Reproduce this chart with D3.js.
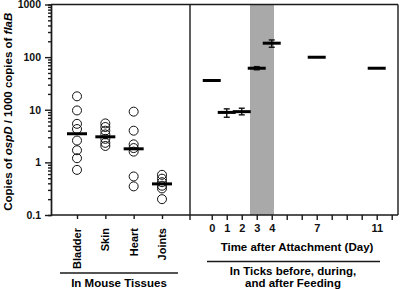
<!DOCTYPE html>
<html>
<head>
<meta charset="utf-8">
<script src="https://cdn.jsdelivr.net/npm/d3@7"></script>
<style>
  body { margin: 0; background: #fff; }
  svg { display: block; font-family: "Liberation Sans", Arial, sans-serif; font-weight: bold; }
  .axis path, .axis line { stroke: #1a1a1a; stroke-width: 1.4; }
  .axis text { font-family: "Liberation Sans", Arial, sans-serif; font-weight: bold; font-size: 10.5px; fill: #111; }
</style>
</head>
<body>
<div id="chart"></div>
<script>
// left panel: copies per tissue (one circle per mouse)
var tissues = ["Bladder", "Skin", "Heart", "Joints"];
var bladder = [18, 9.7, 5.4, 4.3, 2.6, 1.7, 1.2, 0.72];
var skin = [5.5, 4.7, 4.0, 3.4, 2.8, 2.35, 2.05];
var heart = [9.2, 4.0, 2.2, 1.87, 1.6, 0.54, 0.35];
var joints = [0.58, 0.49, 0.42, 0.36, 0.32, 0.2];
var tissueMedians = [3.5, 3.06, 1.81, 0.39];

// right panel: ticks, mean with error
var days = [0, 1, 2, 3, 4, 7, 11];
var dayMeans = [36, 8.9, 9.2, 61.5, 184, 99.5, 61.5];
var dayLow = [36, 7.2, 8.0, 57.5, 154, 99.5, 61.5];
var dayHigh = [36, 10.4, 10.7, 66, 212, 99.5, 61.5];
var dayLabels = [0, 1, 2, 3, 4, 7, 11];
var feedingBand = [2.55, 4.15];

var yTicks = [0.1, 1, 10, 100, 1000];

var W = 400, H = 289;
var mLeft = 51, mTop = 4.5, mBottom = 215, divider = 190, mRight = 398;

var svg = d3.select("#chart").append("svg")
    .attr("width", W)
    .attr("height", H);

var y = d3.scaleLog().domain([0.1, 1000]).range([mBottom, mTop]);
var xT = d3.scalePoint().domain(tissues).range([77, 162]);
var xD = d3.scaleLinear().domain([-1.45, 12.42]).range([divider, mRight]);

// gray feeding band
svg.append("rect")
    .attr("x", xD(feedingBand[0]))
    .attr("y", mTop)
    .attr("width", xD(feedingBand[1]) - xD(feedingBand[0]))
    .attr("height", mBottom - mTop)
    .attr("fill", "#a9a9a9");

// y axis, major and minor ticks
var minor = [];
yTicks.slice(0, 4).forEach(function(t) {
  for (var k = 2; k < 10; k++) minor.push(t * k);
});

svg.append("g")
    .attr("class", "axis")
    .attr("transform", "translate(" + mLeft + ",0)")
    .call(d3.axisLeft(y).tickValues(minor).tickSize(3).tickFormat(""));

svg.append("g")
    .attr("class", "axis")
    .attr("transform", "translate(" + mLeft + ",0)")
    .call(d3.axisLeft(y).tickValues(yTicks).tickSize(6).tickSizeOuter(0)
      .tickFormat(function(d) { return d < 1 ? "0.1" : d3.format("d")(d); }))
    .selectAll("text").attr("dx", "-1px");

// frame
svg.append("line").attr("x1", mLeft).attr("x2", mRight).attr("y1", mTop).attr("y2", mTop)
    .attr("stroke", "#1a1a1a").attr("stroke-width", 1.4);
svg.append("line").attr("x1", mRight).attr("x2", mRight).attr("y1", mTop).attr("y2", mBottom)
    .attr("stroke", "#1a1a1a").attr("stroke-width", 1.4);
svg.append("line").attr("x1", divider).attr("x2", divider).attr("y1", mTop).attr("y2", mBottom + 5)
    .attr("stroke", "#1a1a1a").attr("stroke-width", 1.4);

// bottom axes
var gl = svg.append("g")
    .attr("class", "axis")
    .attr("transform", "translate(0," + mBottom + ")")
    .call(d3.axisBottom(xT).tickSize(4).tickSizeOuter(0).tickFormat(""));
gl.select(".domain").attr("d", "M" + mLeft + ",0H" + divider);

var gr = svg.append("g")
    .attr("class", "axis")
    .attr("transform", "translate(0," + mBottom + ")")
    .call(d3.axisBottom(xD).tickValues(d3.range(0, 13)).tickSize(5).tickSizeOuter(0)
      .tickFormat(function(d) { return dayLabels.indexOf(d) >= 0 ? d : ""; }));
gr.select(".domain").attr("d", "M" + divider + ",0H" + mRight);
gr.selectAll("text").attr("y", 9).style("font-size", "11px");

// tissue labels, rotated
svg.append("g").selectAll("text")
    .data(tissues)
    .enter().append("text")
      .attr("transform", function(d) { return "translate(" + (xT(d) + 4) + ",228) rotate(-90)"; })
      .attr("text-anchor", "end")
      .style("font-size", "11px")
      .text(function(d) { return d; });

// circles
var groups = [bladder, skin, heart, joints];
groups.forEach(function(vals, i) {
  svg.append("g").selectAll("circle")
      .data(vals)
      .enter().append("circle")
        .attr("cx", xT(tissues[i]))
        .attr("cy", function(d) { return y(d); })
        .attr("r", 4.5)
        .attr("fill", "none")
        .attr("stroke", "#111")
        .attr("stroke-width", 1);
});

svg.append("g").selectAll("line")
    .data(tissueMedians)
    .enter().append("line")
      .attr("x1", function(d, i) { return xT(tissues[i]) - 10; })
      .attr("x2", function(d, i) { return xT(tissues[i]) + 10; })
      .attr("y1", function(d) { return y(d); })
      .attr("y2", function(d) { return y(d); })
      .attr("stroke", "#000")
      .attr("stroke-width", 3);

// right panel: error bars + mean lines
var pts = days.map(function(d, i) {
  return {day: d, mean: dayMeans[i], lo: dayLow[i], hi: dayHigh[i]};
});

var eb = svg.append("g").selectAll("g")
    .data(pts.filter(function(p) { return p.hi > p.lo; }))
    .enter().append("g")
      .attr("stroke", "#111")
      .attr("stroke-width", 1.4);
eb.append("line")
    .attr("x1", function(p) { return xD(p.day); })
    .attr("x2", function(p) { return xD(p.day); })
    .attr("y1", function(p) { return y(p.lo); })
    .attr("y2", function(p) { return y(p.hi); });
eb.append("line")
    .attr("x1", function(p) { return xD(p.day) - 3; })
    .attr("x2", function(p) { return xD(p.day) + 3; })
    .attr("y1", function(p) { return y(p.lo); })
    .attr("y2", function(p) { return y(p.lo); });
eb.append("line")
    .attr("x1", function(p) { return xD(p.day) - 3; })
    .attr("x2", function(p) { return xD(p.day) + 3; })
    .attr("y1", function(p) { return y(p.hi); })
    .attr("y2", function(p) { return y(p.hi); });

svg.append("g").selectAll("line")
    .data(pts)
    .enter().append("line")
      .attr("x1", function(p) { return xD(p.day) - 9; })
      .attr("x2", function(p) { return xD(p.day) + 9; })
      .attr("y1", function(p) { return y(p.mean); })
      .attr("y2", function(p) { return y(p.mean); })
      .attr("stroke", "#000")
      .attr("stroke-width", 3);

// y title
var yt = svg.append("text")
    .attr("transform", "translate(12," + ((mTop + mBottom) / 2 + 2) + ") rotate(-90)")
    .attr("text-anchor", "middle")
    .style("font-size", "11.5px");
yt.append("tspan").text("Copies of ");
yt.append("tspan").style("font-style", "italic").text("ospD");
yt.append("tspan").text(" / 1000 copies of ");
yt.append("tspan").style("font-style", "italic").text("flaB");

// group captions
svg.append("line").attr("x1", 60).attr("x2", 178).attr("y1", 273).attr("y2", 273)
    .attr("stroke", "#1a1a1a").attr("stroke-width", 1.4);
svg.append("text").attr("x", 119).attr("y", 287).attr("text-anchor", "middle")
    .style("font-size", "11.5px").text("In Mouse Tissues");

svg.append("text").attr("x", 297).attr("y", 251).attr("text-anchor", "middle")
    .style("font-size", "11.5px").text("Time after Attachment (Day)");
svg.append("line").attr("x1", 207).attr("x2", 380).attr("y1", 261.5).attr("y2", 261.5)
    .attr("stroke", "#1a1a1a").attr("stroke-width", 1.4);
svg.append("text").attr("x", 293).attr("y", 275).attr("text-anchor", "middle")
    .style("font-size", "11.5px").text("In Ticks before, during,");
svg.append("text").attr("x", 293).attr("y", 287).attr("text-anchor", "middle")
    .style("font-size", "11.5px").text("and after Feeding");
</script>
</body>
</html>
